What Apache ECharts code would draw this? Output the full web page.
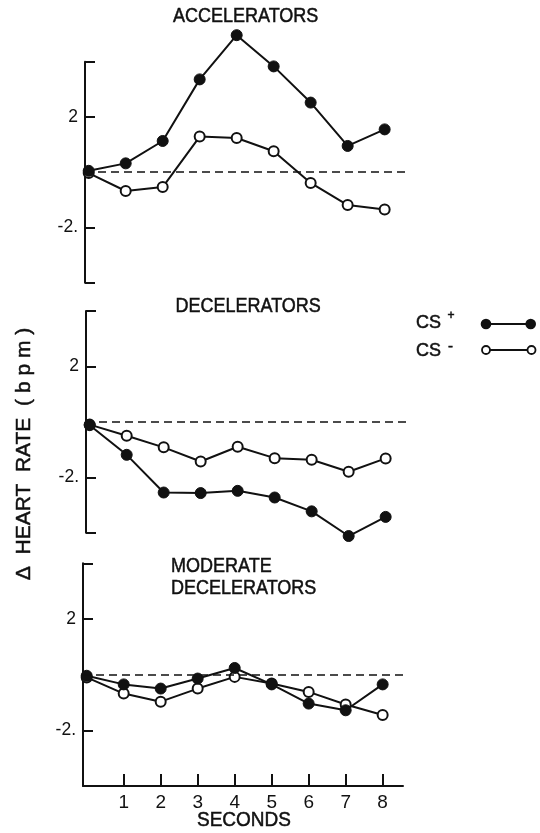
<!DOCTYPE html>
<html>
<head>
<meta charset="utf-8">
<script src="https://cdn.jsdelivr.net/npm/echarts@6/dist/echarts.min.js"></script>
<style>
  html, body { margin: 0; padding: 0; background: #fff; }
  #chart { width: 540px; height: 833px; }
</style>
</head>
<body>
<div id="chart"></div>
<script>
// Seconds after CS onset
const seconds = [0, 1, 2, 3, 4, 5, 6, 7, 8];
const secondTicks = [1, 2, 3, 4, 5, 6, 7, 8];

// Change in heart rate (bpm), per group and stimulus
const accelCSPlus  = [0.05, 0.32, 1.13, 3.36, 4.96, 3.83, 2.52, 0.95, 1.55];
const accelCSMinus = [-0.03, -0.68, -0.54, 1.29, 1.24, 0.76, -0.39, -1.19, -1.35];
const decelCSPlus  = [-0.12, -1.19, -2.55, -2.57, -2.49, -2.73, -3.23, -4.12, -3.43];
const decelCSMinus = [-0.1, -0.5, -0.92, -1.43, -0.9, -1.31, -1.37, -1.8, -1.32];
const modCSPlus    = [-0.04, -0.35, -0.5, -0.14, 0.24, -0.35, -1.04, -1.28, -0.35];
const modCSMinus   = [-0.1, -0.68, -0.97, -0.5, -0.08, -0.32, -0.62, -1.07, -1.45];

const panelTitles = ['ACCELERATORS', 'DECELERATORS', 'MODERATE', 'DECELERATORS'];
const yTickValues = [-4, -2, 2, 4];
const yLabelValues = [-2, 2];

const INK = '#111';
const FONT = 'Arial, "Liberation Sans", sans-serif';

const panels = [
  { plus: accelCSPlus, minus: accelCSMinus, grid: { left: 85, top: 61.7, width: 320, height: 221 } },
  { plus: decelCSPlus, minus: decelCSMinus, grid: { left: 86, top: 311, width: 320, height: 221.7 } },
  { plus: modCSPlus,   minus: modCSMinus,   grid: { left: 83, top: 563.3, width: 320, height: 222.7 } }
];

const pairs = (vals) => seconds.map((s, i) => [s, vals[i]]);

const grids = panels.map(p => p.grid);

const xAxes = panels.map((p, i) => ({
  type: 'value',
  gridIndex: i,
  min: -0.1,
  max: 8.55,
  show: i === 2,
  axisLine: { show: true, onZero: false, lineStyle: { color: INK, width: 2 } },
  axisTick: { show: true, inside: true, length: 12, customValues: secondTicks, lineStyle: { color: INK, width: 2 } },
  axisLabel: { show: true, customValues: secondTicks, margin: 7, color: INK, fontSize: 19, fontFamily: FONT },
  splitLine: { show: false }
}));

const yAxes = panels.map((p, i) => ({
  type: 'value',
  gridIndex: i,
  min: -4,
  max: 4,
  axisLine: { show: true, onZero: false, lineStyle: { color: INK, width: 2 } },
  axisTick: { show: true, inside: true, length: 10, customValues: yTickValues, lineStyle: { color: INK, width: 2 } },
  axisLabel: {
    customValues: yLabelValues,
    margin: 7,
    color: INK,
    fontSize: 17.5,
    fontFamily: FONT,
    formatter: v => (v > 0 ? String(v) : '-2.')
  },
  splitLine: { show: false }
}));

const series = [];
panels.forEach((p, i) => {
  series.push({
    name: 'CS-',
    type: 'line',
    xAxisIndex: i,
    yAxisIndex: i,
    data: pairs(p.minus),
    clip: false,
    symbol: 'circle',
    symbolSize: 10,
    lineStyle: { color: INK, width: 2 },
    itemStyle: { color: '#fff', borderColor: INK, borderWidth: 2 },
    markLine: {
      silent: true,
      symbol: 'none',
      label: { show: false },
      lineStyle: { color: INK, width: 1.6, type: [8, 5] },
      data: [{ yAxis: 0 }]
    },
    z: 3
  });
  series.push({
    name: 'CS+',
    type: 'line',
    xAxisIndex: i,
    yAxisIndex: i,
    data: pairs(p.plus),
    clip: false,
    symbol: 'circle',
    symbolSize: 11,
    lineStyle: { color: INK, width: 2 },
    itemStyle: { color: INK, borderColor: INK, borderWidth: 1 },
    z: 4
  });
});

function label(text, x, y, size, extra, align) {
  return Object.assign({
    type: 'text', x: x, y: y,
    style: {
      text: text, fill: INK, font: size + 'px ' + FONT,
      textAlign: align || 'left', textVerticalAlign: 'middle',
      stroke: INK, lineWidth: 0.5
    }
  }, extra || {});
}

const condensed = { scaleX: 0.9 };
const graphics = [
  // panel titles
  label(panelTitles[0], 173, 16.7, 20, condensed),
  label(panelTitles[1], 175.5, 306.7, 20, condensed),
  label(panelTitles[2], 171, 566.7, 20, condensed),
  label(panelTitles[3], 171, 588.3, 20, condensed),
  // legend
  label('CS', 416, 322.7, 18),
  label('+', 447.5, 316, 12),
  { type: 'line', shape: { x1: 486, y1: 324, x2: 530.7, y2: 324 }, style: { stroke: INK, lineWidth: 2 } },
  { type: 'circle', shape: { cx: 486, cy: 324, r: 5.3 }, style: { fill: INK } },
  { type: 'circle', shape: { cx: 530.7, cy: 324, r: 5.3 }, style: { fill: INK } },
  label('CS', 416, 350.7, 18),
  label('-', 448, 347, 15),
  { type: 'line', shape: { x1: 486, y1: 350, x2: 531.5, y2: 350 }, style: { stroke: INK, lineWidth: 2 } },
  { type: 'circle', shape: { cx: 486, cy: 350, r: 4 }, style: { fill: '#fff', stroke: INK, lineWidth: 1.8 }, z: 2 },
  { type: 'circle', shape: { cx: 531.5, cy: 350, r: 4 }, style: { fill: '#fff', stroke: INK, lineWidth: 1.8 }, z: 2 },
  // shared axis names
  label('Δ  HEART  RATE  ( b p m )', 24, 454, 21, { rotation: Math.PI / 2 }, 'center'),
  label('SECONDS', 244, 820, 20, { scaleX: 0.95 }, 'center')
];

const chart = echarts.init(document.getElementById('chart'), null, { renderer: 'canvas' });
chart.setOption({
  backgroundColor: '#fff',
  animation: false,
  grid: grids,
  xAxis: xAxes,
  yAxis: yAxes,
  series: series,
  graphic: graphics
});
</script>
</body>
</html>
